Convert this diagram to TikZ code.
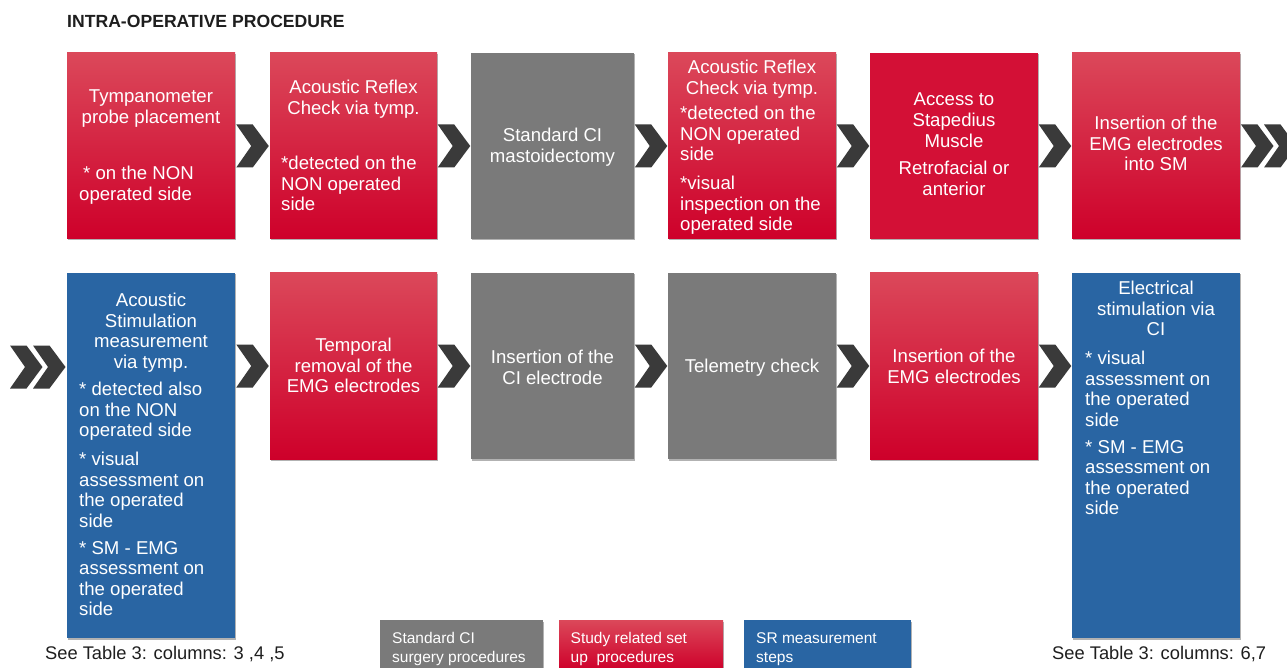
\documentclass[tikz,border=0pt]{standalone}
\usepackage{fontspec}
\setmainfont{Liberation Sans}
\usetikzlibrary{shadows,calc}
\definecolor{rtop}{RGB}{219,72,90}
\definecolor{rmid}{RGB}{213,12,52}
\definecolor{rbot}{RGB}{206,0,42}
\definecolor{rflat}{RGB}{211,16,54}
\definecolor{gbox}{RGB}{122,122,122}
\definecolor{bbox}{RGB}{41,101,163}
\definecolor{chevc}{RGB}{58,58,58}
\definecolor{txtc}{RGB}{30,30,30}
\newcommand{\chevat}[1]{\fill[chevc,shift={(#1)}] (-16.25,-21.5) -- (0.25,-21.5) -- (16.25,0) -- (0.25,21.5) -- (-16.25,21.5) -- (-1.25,0) -- cycle;}
\begin{document}
\begin{tikzpicture}[x=1pt,y=-1pt,
  box/.style={rectangle, inner sep=0, outer sep=0, draw=none,
    drop shadow={shadow xshift=1.2pt, shadow yshift=-1.5pt, opacity=0.3, fill=black}},
  redbox/.style={box, top color=rtop, middle color=rmid, bottom color=rbot},
  flatred/.style={box, fill=rflat},
  graybox/.style={box, fill=gbox},
  bluebox/.style={box, fill=bbox},
  txt/.style={inner sep=0, text=white, font=\fontsize{18.6}{20.6}\selectfont},
  ctr/.style={txt, align=center, anchor=north},
  lft/.style={txt, align=left, anchor=north west},
  legtxt/.style={inner sep=0, text=white, align=left, anchor=north west, font=\fontsize{15.5}{19}\selectfont},
  note/.style={inner sep=0, text=txtc, anchor=base west, font=\fontsize{18.3}{20}\selectfont}
]
\useasboundingbox (0,0) rectangle (1287,668);
\fill[white] (0,0) rectangle (1287,668);

\node[inner sep=0, anchor=base west, text=txtc, font=\fontsize{17.6}{20}\selectfont\bfseries] (title) at (67,27.5) {INTRA-OPERATIVE PROCEDURE};

% row 1 boxes
\node[redbox, minimum width=168, minimum height=186] (r1b1) at (151,146) {};
\node[redbox, minimum width=167, minimum height=186] (r1b2) at (353.5,146) {};
\node[graybox, minimum width=163, minimum height=186] (r1b3) at (552.5,146) {};
\node[redbox, minimum width=168, minimum height=186] (r1b4) at (752,146) {};
\node[flatred, minimum width=168, minimum height=186] (r1b5) at (954,146) {};
\node[redbox, minimum width=168, minimum height=186] (r1b6) at (1156,146) {};

% row 2 boxes
\node[bluebox, minimum width=168, minimum height=365] (r2b1) at (151,455.5) {};
\node[redbox, minimum width=167, minimum height=186] (r2b2) at (353.5,366) {};
\node[graybox, minimum width=163, minimum height=186] (r2b3) at (552.5,366) {};
\node[graybox, minimum width=168, minimum height=186] (r2b4) at (752,366) {};
\node[redbox, minimum width=168, minimum height=186] (r2b5) at (954,366) {};
\node[bluebox, minimum width=168, minimum height=365] (r2b6) at (1156,455.5) {};

% row 1 texts
\node[ctr] (t1a) at (151,90) {Tympanometer\\probe placement};
\node[lft] (t1b) at (79,166) {\hspace{4pt}* on the NON\\operated side};
\node[ctr] (t2a) at (353.5,80) {Acoustic Reflex\\Check via tymp.};
\node[lft] (t2b) at (281,156) {*detected on the\\NON operated\\side};
\node[ctr] (t3a) at (552.5,128) {Standard CI\\mastoidectomy};
\node[ctr] (t4a) at (752,60) {Acoustic Reflex\\Check via tymp.};
\node[lft] (t4b) at (680,106) {*detected on the\\NON operated\\side};
\node[lft] (t4c) at (680,176) {*visual\\inspection on the\\operated side};
\node[ctr] (t5a) at (954,93) {Access to\\Stapedius\\Muscle};
\node[ctr] (t5b) at (954,161) {Retrofacial or\\anterior};
\node[ctr] (t6a) at (1156,116) {Insertion of the\\EMG electrodes\\into SM};

% row 2 texts
\node[ctr] (u1a) at (151,293) {Acoustic\\Stimulation\\measurement\\via tymp.};
\node[lft] (u1b) at (79,382) {* detected also\\on the NON\\operated side};
\node[lft] (u1c) at (79,452) {* visual\\assessment on\\the operated\\side};
\node[lft] (u1d) at (79,541) {* SM - EMG\\assessment on\\the operated\\side};
\node[ctr] (u2a) at (353.5,338) {Temporal\\removal of the\\EMG electrodes};
\node[ctr] (u3a) at (552.5,350) {Insertion of the\\CI electrode};
\node[ctr] (u4a) at (752,359) {Telemetry check};
\node[ctr] (u5a) at (954,349) {Insertion of the\\EMG electrodes};
\node[ctr] (u6a) at (1156,281) {Electrical\\stimulation via\\CI};
\node[lft] (u6b) at (1085,351) {* visual\\assessment on\\the operated\\side};
\node[lft] (u6c) at (1085,440) {* SM - EMG\\assessment on\\the operated\\side};

% chevron connectors
\coordinate (k1) at ($(r1b1.east)!0.5!(r1b2.west)$);
\coordinate (k2) at ($(r1b2.east)!0.5!(r1b3.west)$);
\coordinate (k3) at ($(r1b3.east)!0.5!(r1b4.west)$);
\coordinate (k4) at ($(r1b4.east)!0.5!(r1b5.west)$);
\coordinate (k5) at ($(r1b5.east)!0.5!(r1b6.west)$);
\coordinate (k6) at ($(r2b1.east |- r2b2.west)!0.5!(r2b2.west)$);
\coordinate (k7) at ($(r2b2.east)!0.5!(r2b3.west)$);
\coordinate (k8) at ($(r2b3.east)!0.5!(r2b4.west)$);
\coordinate (k9) at ($(r2b4.east)!0.5!(r2b5.west)$);
\coordinate (k10) at ($(r2b5.east)!0.5!(r2b6.west |- r2b5.east)$);
\coordinate (dR1) at ($(r1b6.east)+(17.25,0)$);
\coordinate (dR2) at ($(r1b6.east)+(40.25,0)$);
\coordinate (dL1) at ($(r2b1.west |- r2b2.west)+(-40.75,1)$);
\coordinate (dL2) at ($(r2b1.west |- r2b2.west)+(-17.75,1)$);
\foreach \k in {k1,k2,k3,k4,k5,k6,k7,k8,k9,k10,dR1,dR2,dL1,dL2} {\chevat{\k}}

% legend
\node[graybox, minimum width=163, minimum height=50] (lg1) at (461.5,645) {};
\node[redbox, minimum width=164, minimum height=50] (lg2) at (641,645) {};
\node[bluebox, minimum width=167, minimum height=50] (lg3) at (827.5,645) {};
\node[legtxt] (lt1) at (392,632) {Standard CI\\surgery procedures};
\node[legtxt] (lt2) at (570.5,632) {Study related set\\up\ \ procedures};
\node[legtxt] (lt3) at (756,632) {SR measurement\\steps};

% notes
\node[note] (n1) at (45,659.5) {See Table 3: columns: 3 ,4 ,5};
\node[note] (n2) at (1052,659.5) {See Table 3: columns: 6,7};
\end{tikzpicture}
\end{document}
